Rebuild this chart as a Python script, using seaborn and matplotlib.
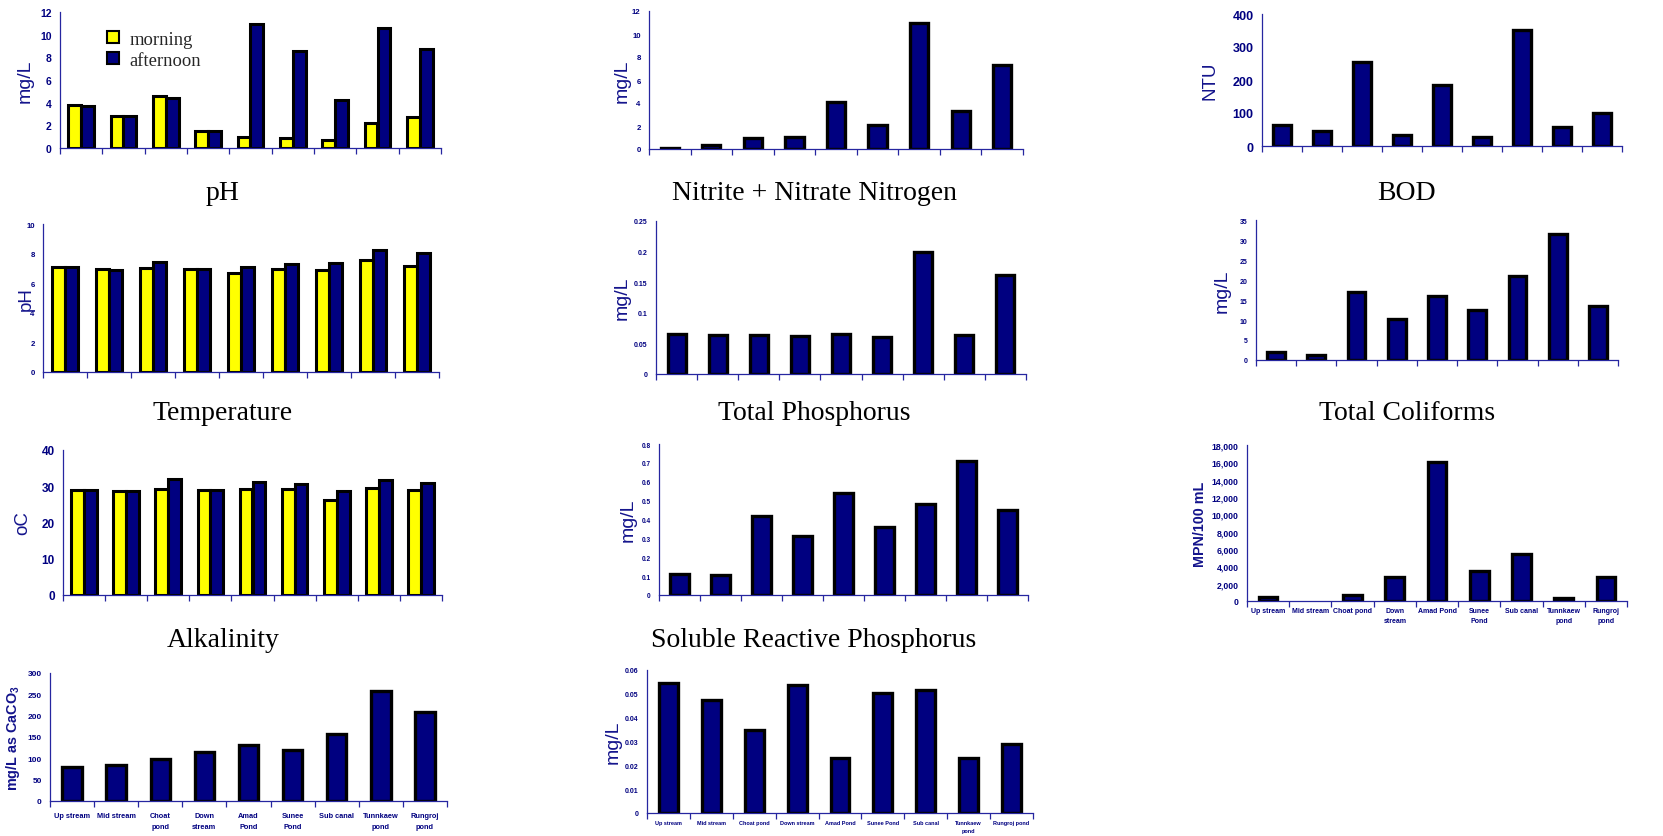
import numpy as np
import pandas as pd
import matplotlib
matplotlib.use("Agg")
import matplotlib.pyplot as plt
import seaborn as sns
from matplotlib.patches import Patch
from matplotlib.font_manager import FontProperties

sns.set_theme(style="white")
plt.rcParams["font.family"] = ["Liberation Sans", "DejaVu Sans"]
plt.rcParams["mathtext.fontset"] = "custom"
plt.rcParams["mathtext.rm"] = "Liberation Sans:bold"
plt.rcParams["mathtext.bf"] = "Liberation Sans:bold"

# ---- sampling sites ----
sites = ["Up stream", "Mid stream", "Choat pond", "Down stream", "Amad Pond",
         "Sunee Pond", "Sub canal", "Tunnkaew pond", "Rungroj pond"]
sites_wrap_a = ["Up stream", "Mid stream", "Choat pond", "Down\nstream", "Amad Pond",
                "Sunee\nPond", "Sub canal", "Tunnkaew\npond", "Rungroj\npond"]
sites_wrap_b = ["Up stream", "Mid stream", "Choat\npond", "Down\nstream", "Amad\nPond",
                "Sunee\nPond", "Sub canal", "Tunnkaew\npond", "Rungroj\npond"]
sites_wrap_c = ["Up stream", "Mid stream", "Choat pond", "Down stream", "Amad Pond",
                "Sunee Pond", "Sub canal", "Tunnkaew\npond", "Rungroj pond"]

# ---- measurements ----
do_morning = [3.8, 2.85, 4.6, 1.5, 0.95, 0.9, 0.75, 2.2, 2.7]
do_afternoon = [3.75, 2.85, 4.45, 1.5, 10.95, 8.55, 4.2, 10.6, 8.7]
nitrite_nitrate = [0.12, 0.35, 0.98, 1.07, 4.08, 2.05, 10.98, 3.27, 7.28]
turbidity = [64, 44, 254, 33, 186, 28, 352, 59, 100]
ph_morning = [7.11, 6.93, 7.0, 6.93, 6.68, 6.93, 6.86, 7.58, 7.13]
ph_afternoon = [7.11, 6.86, 7.43, 6.93, 7.07, 7.27, 7.34, 8.26, 8.01]
total_phosphorus = [0.0655, 0.064, 0.063, 0.062, 0.0655, 0.061, 0.199, 0.063, 0.161]
bod = [2.1, 1.2, 17.1, 10.3, 16.1, 12.4, 20.9, 31.5, 13.5]
temp_morning = [29.0, 28.6, 29.2, 28.9, 29.2, 29.2, 26.3, 29.4, 29.05]
temp_afternoon = [29.0, 28.6, 32.1, 28.9, 31.2, 30.7, 28.7, 31.6, 30.9]
soluble_phosphorus = [0.110, 0.107, 0.416, 0.315, 0.540, 0.361, 0.480, 0.709, 0.448]
coliforms = [500, np.nan, 735, 2825, 16000, 3485, 5420, 390, 2825]
alkalinity = [80, 84, 99, 115, 132, 120, 157, 258, 208]
phosphate = [0.0544, 0.0474, 0.0347, 0.0538, 0.0232, 0.0505, 0.0516, 0.0231, 0.0291]

NAVY = "#000080"
YELLOW = "#FFFF00"
LABEL_BLUE = "#14148C"
SPINE_BLUE = "#2626A0"

W, H = 1663, 837
fig = plt.figure(figsize=(W / 100, H / 100), dpi=100)
fig.patch.set_facecolor("white")


def add_ax(x0, y0, x1, y1):
    return fig.add_axes([x0 / W, 1 - y1 / H, (x1 - x0) / W, (y1 - y0) / H])


def single_bars(ax, values):
    sns.barplot(x=sites, y=values, order=sites, color=NAVY, saturation=1,
                width=0.44, edgecolor="black", linewidth=2.4, errorbar=None, ax=ax)


def paired_bars(ax, morning, afternoon):
    df = pd.DataFrame({
        "site": sites * 2,
        "value": list(morning) + list(afternoon),
        "time": ["morning"] * len(sites) + ["afternoon"] * len(sites),
    })
    sns.barplot(data=df, x="site", y="value", hue="time", order=sites,
                hue_order=["morning", "afternoon"],
                palette={"morning": YELLOW, "afternoon": NAVY}, saturation=1,
                width=0.61, edgecolor="black", linewidth=2.2, errorbar=None,
                legend=False, ax=ax)


def style(ax, ymax, step, tick_pt, ylabel, label_x, label_pt, label_bold=False,
          fmt=None, xlabels=None, xlabel_pt=5, linesp=1.6, xpad=3):
    ax.set_xlim(-0.5, 8.5)
    ax.set_ylim(0, ymax)
    ax.set_facecolor("none")
    for s in ["top", "right"]:
        ax.spines[s].set_visible(False)
    for s in ["left", "bottom"]:
        ax.spines[s].set_color(SPINE_BLUE)
        ax.spines[s].set_linewidth(0.9)
    ticks = np.arange(0, ymax + step / 2, step)
    if fmt is None:
        fmt = lambda v: f"{v:g}"
    ax.set_yticks(ticks, labels=[fmt(t) for t in ticks], fontweight="bold",
                  fontsize=tick_pt, color=NAVY)
    ax.tick_params(axis="y", direction="out", length=4, width=0.9, color=SPINE_BLUE, pad=2)
    ax.set_xticks(np.arange(-0.5, 9, 1), minor=True)
    ax.tick_params(axis="x", which="minor", direction="out", length=4, width=0.9,
                   color=SPINE_BLUE, bottom=True)
    if xlabels is None:
        ax.set_xticks(np.arange(9), labels=[""] * 9)
        ax.tick_params(axis="x", which="major", length=0)
    else:
        ax.set_xticks(np.arange(9), labels=xlabels, fontweight="bold",
                      fontsize=xlabel_pt, color=NAVY, linespacing=linesp)
        ax.tick_params(axis="x", which="major", length=0, pad=xpad)
    ax.set_xlabel("")
    ax.set_ylabel(ylabel, fontsize=label_pt, color=LABEL_BLUE,
                  fontweight="bold" if label_bold else "normal")
    x0 = ax.get_position().x0 * W
    x1 = ax.get_position().x1 * W
    ax.yaxis.set_label_coords((label_x - x0) / (x1 - x0), 0.5)
    ax.yaxis.label.set_va("center")


def caption(x, y, text):
    fig.text(x / W, 1 - y / H, text, ha="center", va="center",
             family=["Liberation Serif", "DejaVu Serif"], fontsize=20, color="black")


# ---- row 1 ----
ax = add_ax(60, 13, 441, 149)
paired_bars(ax, do_morning, do_afternoon)
style(ax, 12, 2, 7.5, "mg/L", 25, 14)
handles = [Patch(facecolor=YELLOW, edgecolor="black", linewidth=1.5),
           Patch(facecolor=NAVY, edgecolor="black", linewidth=1.5)]
ax.legend(handles, ["morning", "afternoon"], loc="upper left",
          bbox_to_anchor=(0.1, 0.93), frameon=False,
          prop=FontProperties(family="Liberation Serif", size=13.4),
          handlelength=0.6, handleheight=0.6, handletextpad=0.6,
          labelspacing=0.2, borderpad=0)

ax = add_ax(649, 12, 1023, 150)
single_bars(ax, nitrite_nitrate)
style(ax, 12, 2, 5.6, "mg/L", 622, 14)

ax = add_ax(1262, 15, 1622, 147)
single_bars(ax, turbidity)
style(ax, 400, 100, 9, "NTU", 1210, 13.5)

caption(223, 194, "pH")
caption(814, 194, "Nitrite + Nitrate Nitrogen")
caption(1407, 194, "BOD")

# ---- row 2 ----
ax = add_ax(43, 225, 439, 373)
paired_bars(ax, ph_morning, ph_afternoon)
style(ax, 10, 2, 5.6, "pH", 26, 13.5)

ax = add_ax(656, 222, 1026, 375)
single_bars(ax, total_phosphorus)
style(ax, 0.25, 0.05, 5, "mg/L", 622, 14)

ax = add_ax(1256, 221, 1618, 361)
single_bars(ax, bod)
style(ax, 35, 5, 5, "mg/L", 1222, 14)

caption(223, 414, "Temperature")
caption(814, 414, "Total Phosphorus")
caption(1407, 414, "Total Coliforms")

# ---- row 3 ----
ax = add_ax(63, 451, 442, 596)
paired_bars(ax, temp_morning, temp_afternoon)
style(ax, 40, 10, 8.5, "oC", 23, 13.5)

ax = add_ax(659, 445, 1028, 596)
single_bars(ax, soluble_phosphorus)
style(ax, 0.8, 0.1, 4.7, "mg/L", 628, 14)

ax = add_ax(1247, 446, 1627, 602)
single_bars(ax, coliforms)
style(ax, 18000, 2000, 6.3, "MPN/100 mL", 1200, 10.3, label_bold=True,
      fmt=lambda v: f"{int(round(v)):,}", xlabels=sites_wrap_a, xlabel_pt=5,
      linesp=1.6, xpad=4)

caption(223, 641, "Alkalinity")
caption(814, 641, "Soluble Reactive Phosphorus")

# ---- row 4 ----
ax = add_ax(50, 674, 447, 802)
single_bars(ax, alkalinity)
style(ax, 300, 50, 6, "mg/L as CaCO$_3$", 13, 10.4, label_bold=True,
      xlabels=sites_wrap_b, xlabel_pt=5.3, linesp=1.75, xpad=8)

ax = add_ax(647, 671, 1033, 814)
single_bars(ax, phosphate)
style(ax, 0.06, 0.01, 5, "mg/L", 613, 14,
      fmt=lambda v: "0" if v == 0 else f"{v:.2f}",
      xlabels=sites_wrap_c, xlabel_pt=4, linesp=1.8, xpad=5)

fig.savefig("out.png", dpi=100, facecolor="white")
